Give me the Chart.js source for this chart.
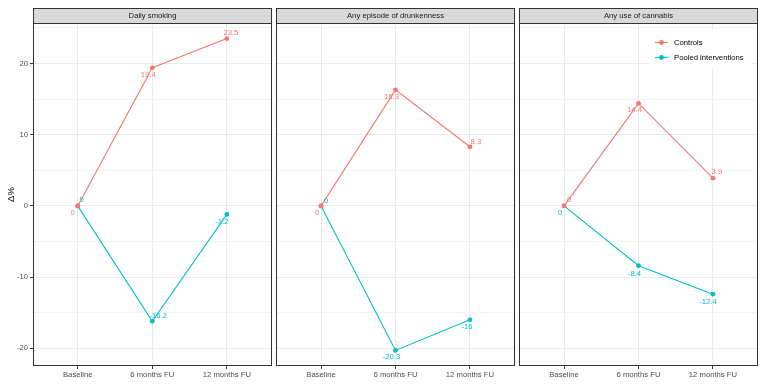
<!DOCTYPE html>
<html><head><meta charset="utf-8">
<script src="https://cdn.jsdelivr.net/npm/chart.js@4"></script>
<style>
html,body{margin:0;padding:0;background:#fff;}
#wrap{position:relative;width:766px;height:386px;overflow:hidden;background:#fff}
canvas{position:absolute;top:0}
</style></head><body>
<div id="wrap">
<canvas id="c1" width="274" height="386" style="left:0px"></canvas>
<canvas id="c2" width="243" height="386" style="left:274px"></canvas>
<canvas id="c3" width="243" height="386" style="left:517px"></canvas>
</div>
<script>
// ---- data ----
const categories = ['Baseline', '6 months FU', '12 months FU'];
const panelTitles = ['Daily smoking', 'Any episode of drunkenness', 'Any use of cannabis'];
const seriesNames = ['Controls', 'Pooled interventions'];
const controlsSmoking = [0, 19.4, 23.5];
const pooledSmoking = [0, -16.2, -1.2];
const controlsDrunk = [0, 16.3, 8.3];
const pooledDrunk = [0, -20.3, -16];
const controlsCannabis = [0, 14.4, 3.9];
const pooledCannabis = [0, -8.4, -12.4];
const yMajorTicks = [-20, -10, 0, 10, 20];
const yMinorTicks = [-15, -5, 5, 15, 25];
const yAxisTitle = 'Δ%';

// ---- style ----
const FONT = "'Liberation Sans', Arial, Helvetica, sans-serif";
const COLORS = ['#F8766D', '#00BFC4'];
const FS = 7.7;
// label nudges in pixels [dx, dy] per panel, series, point
const labelNudges = [
  [[[-5, 7], [-4, 7], [4, -6]], [[4, -6], [6, -5], [-5, 7]]],
  [[[-4, 7], [-4, 7], [6, -5]], [[5, -5], [-4, 6], [-3, 7]]],
  [[[5, -6], [-4, 7], [4, -6]], [[-4, 7], [-4, 8], [-5, 8]]]
];

const allVals = [].concat(controlsSmoking, pooledSmoking, controlsDrunk, pooledDrunk, controlsCannabis, pooledCannabis);
const dMin = Math.min(...allVals), dMax = Math.max(...allVals);
const yMin = dMin - 0.05 * (dMax - dMin), yMax = dMax + 0.05 * (dMax - dMin);
const yAllTicks = yMajorTicks.concat(yMinorTicks).sort((a, b) => a - b);

Chart.defaults.font.family = FONT;
Chart.defaults.font.size = FS;

const decoPlugin = {
  id: 'deco',
  afterDatasetsDraw(chart) {
    const o = chart.options.plugins.deco;
    const ctx = chart.ctx;
    ctx.save();
    ctx.font = FS + 'px ' + FONT;
    ctx.textAlign = 'center';
    ctx.textBaseline = 'middle';
    chart.data.datasets.forEach((ds, di) => {
      const meta = chart.getDatasetMeta(di);
      meta.data.forEach((pt, i) => {
        const n = o.nudges[di][i];
        ctx.fillStyle = ds.borderColor;
        ctx.fillText(String(ds.data[i].y), pt.x + n[0], pt.y + n[1]);
      });
    });
    ctx.restore();
  },
  afterDraw(chart) {
    const o = chart.options.plugins.deco;
    const ctx = chart.ctx;
    const a = chart.chartArea;
    const L = Math.round(a.left), R = Math.round(a.right), T = Math.round(a.top), B = Math.round(a.bottom);
    ctx.save();
    // legend
    if (o.legend) {
      const bw = 102, bh = 39;
      const bx = R - 7 - bw, by = T + 7;
      ctx.fillStyle = '#FFFFFF';
      ctx.fillRect(bx, by, bw, bh);
      seriesNames.forEach((name, i) => {
        const yy = by + 12.5 + i * 15;
        ctx.strokeStyle = COLORS[i];
        ctx.lineWidth = 1.1;
        ctx.beginPath(); ctx.moveTo(bx + 6, yy); ctx.lineTo(bx + 19, yy); ctx.stroke();
        ctx.fillStyle = COLORS[i];
        ctx.beginPath(); ctx.arc(bx + 12.5, yy, 2.4, 0, Math.PI * 2); ctx.fill();
        ctx.fillStyle = '#000000';
        ctx.font = FS + 'px ' + FONT;
        ctx.textAlign = 'left';
        ctx.textBaseline = 'middle';
        ctx.fillText(name, bx + 25, yy);
      });
    }
    // panel border
    ctx.strokeStyle = '#333333';
    ctx.lineWidth = 1;
    ctx.strokeRect(L + 0.5, T + 0.5, R - L - 1, B - T - 1);
    // strip
    ctx.fillStyle = '#D9D9D9';
    ctx.fillRect(L, 8, R - L, T - 8);
    ctx.strokeRect(L + 0.5, 8.5, R - L - 1, T - 8);
    ctx.fillStyle = '#1A1A1A';
    ctx.font = FS + 'px ' + FONT;
    ctx.textAlign = 'center';
    ctx.textBaseline = 'middle';
    ctx.fillText(o.title, (L + R) / 2, (8 + T) / 2 + 0.5);
    // y title
    if (o.yTitle) {
      ctx.save();
      ctx.translate(11, (T + B) / 2);
      ctx.rotate(-Math.PI / 2);
      ctx.fillStyle = '#000000';
      ctx.font = '9.6px ' + FONT;
      ctx.fillText(yAxisTitle, 0, 0);
      ctx.restore();
    }
    ctx.restore();
  }
};

function makePanel(id, idx, ctrl, pooled, first, legend) {
  const series = [ctrl, pooled];
  new Chart(document.getElementById(id), {
    type: 'line',
    data: {
      datasets: series.map((vals, si) => ({
        label: seriesNames[si],
        data: vals.map((v, i) => ({ x: i, y: v })),
        borderColor: COLORS[si],
        backgroundColor: COLORS[si],
        borderWidth: 1.1,
        pointRadius: 2.4,
        pointBorderWidth: 0,
        pointHoverRadius: 2.4,
        tension: 0,
        clip: false
      }))
    },
    options: {
      responsive: false,
      animation: false,
      events: [],
      layout: { padding: { top: 23, left: first ? 0 : 2, right: 2, bottom: 0 } },
      plugins: {
        legend: { display: false },
        tooltip: { enabled: false },
        deco: { title: panelTitles[idx], nudges: labelNudges[idx], legend: legend, yTitle: first }
      },
      scales: {
        x: {
          type: 'linear',
          min: -0.6, max: 2.6,
          afterBuildTicks: (s) => { s.ticks = categories.map((c, i) => ({ value: i })); },
          afterFit: (s) => { s.height = 20; },
          border: { display: false },
          grid: { color: '#EBEBEB', lineWidth: 1, tickColor: '#333333', tickLength: 3, drawTicks: true },
          ticks: {
            autoSkip: false, maxRotation: 0, minRotation: 0, padding: 1,
            color: '#4D4D4D', font: { size: FS },
            callback: (v) => categories[v]
          }
        },
        y: {
          type: 'linear',
          min: yMin, max: yMax,
          afterBuildTicks: (s) => { s.ticks = yAllTicks.map(v => ({ value: v })); },
          afterFit: (s) => { s.width = first ? 33 : 0; },
          border: { display: false },
          grid: {
            color: (c) => yMajorTicks.includes(c.tick.value) ? '#EBEBEB' : '#F4F4F4',
            lineWidth: 1,
            drawTicks: first,
            tickLength: 3,
            tickColor: (c) => yMajorTicks.includes(c.tick.value) ? '#333333' : 'rgba(0,0,0,0)'
          },
          ticks: {
            display: first,
            padding: 2,
            color: '#4D4D4D', font: { size: FS },
            callback: (v) => yMajorTicks.includes(v) ? String(v) : ''
          }
        }
      }
    },
    plugins: [decoPlugin]
  });
}

makePanel('c1', 0, controlsSmoking, pooledSmoking, true, false);
makePanel('c2', 1, controlsDrunk, pooledDrunk, false, false);
makePanel('c3', 2, controlsCannabis, pooledCannabis, false, true);
</script>
</body></html>
